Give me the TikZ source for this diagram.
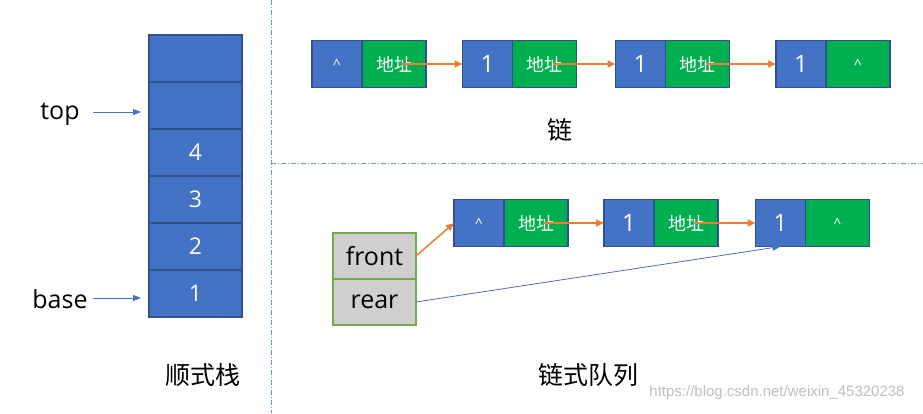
\documentclass[tikz,border=0pt]{standalone}
\usepackage{fontspec}
\setmainfont{Open Sans}
\newfontfamily\cjk{Noto Sans CJK SC}
\newfontfamily\urlfont{Liberation Sans}
\usetikzlibrary{arrows.meta,positioning}
\definecolor{cellblue}{HTML}{4472C4}
\definecolor{edgeblue}{HTML}{2F528F}
\definecolor{cellgreen}{HTML}{00B050}
\definecolor{linkorange}{HTML}{ED7D31}
\definecolor{ptrgrey}{HTML}{D0CECE}
\definecolor{ptredge}{HTML}{70AD47}
\definecolor{sepblue}{HTML}{5B9BD5}
\tikzset{
  data/.style={
    shape = rectangle,
    draw = edgeblue,
    line width = 1.5pt,
    fill = cellblue,
    text = white,
    minimum width = 50pt,
    minimum height = 47pt,
    inner sep = 0pt,
    outer sep = 0pt,
    font = \fontsize{24}{24}\selectfont
  },
  addr/.style={
    data,
    fill = cellgreen,
    minimum width = 64pt,
    font = \cjk\fontsize{18}{18}\selectfont
  },
  nil/.style={
    font = \fontsize{14}{14}\selectfont
  },
  slot/.style={
    data,
    minimum width = 93pt,
    font = \fontsize{23}{23}\selectfont
  },
  ptr/.style={
    shape = rectangle,
    draw = ptredge,
    line width = 1.5pt,
    fill = ptrgrey,
    minimum width = 83pt,
    minimum height = 46pt,
    inner sep = 0pt,
    outer sep = 0pt,
    font = \fontsize{25}{25}\selectfont
  },
  link/.style={
    draw = linkorange,
    line width = 1.5pt,
    -{Triangle[length=8pt,width=7pt]}
  },
  thinlink/.style={
    draw = cellblue,
    line width = 0.8pt,
    -{Triangle[length=8pt,width=6pt]}
  },
  divider/.style={
    draw = sepblue,
    line width = 0.8pt,
    dash pattern = on 5pt off 2pt on 1pt off 2pt
  },
  caption/.style={
    font = \cjk\fontsize{25}{25}\selectfont
  },
  side/.style={
    font = \fontsize{25}{25}\selectfont
  }
}
\begin{document}
\begin{tikzpicture}[x=1pt, y=-1pt]
  \useasboundingbox[fill=white] (0,0) rectangle (923,413);
  % dividers
  \draw[divider] (271,0) -- (271,413);
  \draw[divider] (271,163) -- (923,163);

  % stack
  \foreach \i/\v in {0/,1/,2/4,3/3,4/2,5/1}
    \node[slot] (s\i) at (195.5,58.5+47*\i) {\v};
  \node[side] (top) at (60,114) {top};
  \node[side] (base) at (60,299) {base};
  \coordinate (topstart) at (93,112);
  \coordinate (topend) at (141,112);
  \coordinate (basestart) at (93,298);
  \coordinate (baseend) at (141,298);
  \draw[thinlink] (topstart) -- (topend);
  \draw[thinlink] (basestart) -- (baseend);
  \node[caption] (stackcap) at (203,375) {顺式栈};

  % linked list
  \node[data, nil] (l1) at (337,64) {\^{}};
  \node[addr, anchor=west] (l1a) at (l1.east) {地址};
  \node[data] (l2) at (487.5,64) {1};
  \node[addr, anchor=west] (l2a) at (l2.east) {地址};
  \node[data] (l3) at (640.5,64) {1};
  \node[addr, anchor=west] (l3a) at (l3.east) {地址};
  \node[data] (l4) at (801,64) {1};
  \node[addr, font=\fontsize{14}{14}\selectfont, anchor=west] (l4a) at (l4.east) {\^{}};
  \draw[link] ([xshift=8pt]l1a.center) -- (l2.west);
  \draw[link] ([xshift=8pt]l2a.center) -- (l3.west);
  \draw[link] ([xshift=8pt]l3a.center) -- (l4.west);
  \node[caption] (listcap) at (560,130) {链};

  % linked queue
  \node[data, nil] (q1) at (479,223) {\^{}};
  \node[addr, anchor=west] (q1a) at (q1.east) {地址};
  \node[data] (q2) at (629,223) {1};
  \node[addr, anchor=west] (q2a) at (q2.east) {地址};
  \node[data] (q3) at (780.5,223) {1};
  \node[addr, font=\fontsize{14}{14}\selectfont, anchor=west] (q3a) at (q3.east) {\^{}};
  \draw[link] ([xshift=8pt]q1a.center) -- (q2.west);
  \draw[link] ([xshift=8pt]q2a.center) -- (q3.west);
  \node[ptr] (front) at (374.5,256) {front};
  \node[ptr, anchor=north] (rear) at (front.south) {rear};
  \draw[link] (front.east) -- (q1.west);
  \draw[thinlink] (rear.east) -- (q3.south);
  \node[caption] (queuecap) at (588,375) {链式队列};

  \node[text=black!25, font=\urlfont\fontsize{15}{15}\selectfont] (mark) at (777,393) {https://blog.csdn.net/weixin\_45320238};
\end{tikzpicture}
\end{document}
